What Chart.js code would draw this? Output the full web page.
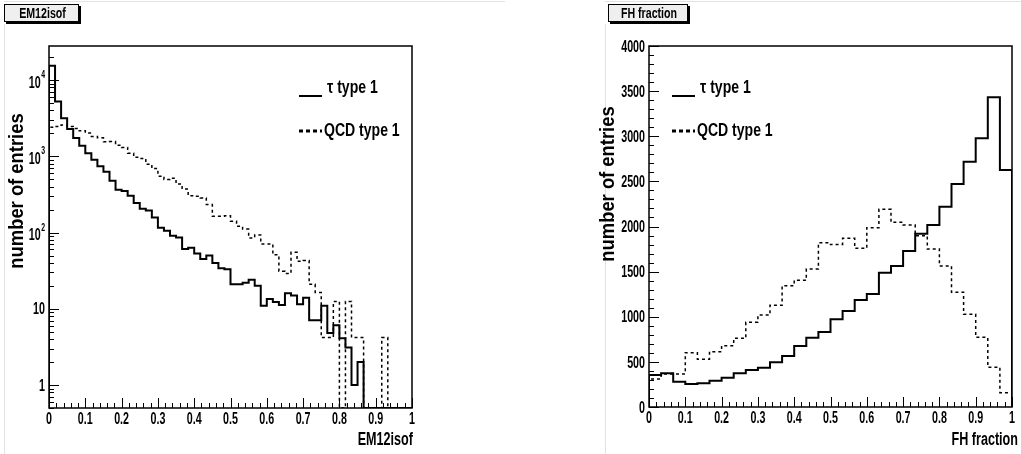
<!DOCTYPE html>
<html>
<head>
<meta charset="utf-8">
<script src="https://cdn.jsdelivr.net/npm/chart.js@4.4.1/dist/chart.umd.min.js"></script>
<style>
    html, body { margin: 0; padding: 0; background: #fff; }
    #wrap { position: relative; width: 1021px; height: 454px; overflow: hidden; }
    canvas { position: absolute; top: 0; }
    #em-canvas { left: 0; }
    #fh-canvas { left: 510px; }
</style>
</head>
<body>
<div id="wrap">
    <canvas id="em-canvas" width="510" height="454"></canvas>
    <canvas id="fh-canvas" width="511" height="454"></canvas>
</div>
<script>
// EM12isof: 60 bins over [0, 1], log scale
const emTau = [15400, 5250, 3170, 2280, 1735, 1380, 1100, 900, 740, 630,
    480, 365, 350, 305, 245, 205, 195, 158, 116, 106,
    91, 86, 61, 63, 53, 45, 50, 40, 34, 33,
    21, 21, 22, 24, 20, 11, 13.4, 12.3, 11.2, 16,
    15, 11.5, 14, 7.1, 7.1, 11, 4.8, 6.1, 4.1, 3.1,
    1.0, 2.0, 0, 0, 0, 0, 0, 0, 0, 0];
const emQcd = [2400, 2470, 2570, 2470, 2325, 2160, 2020, 1820, 1750, 1550,
    1560, 1400, 1310, 1100, 970, 940, 790, 690, 550, 495,
    515, 433, 372, 304, 299, 285, 233, 164, 164, 166,
    141, 121, 111, 85, 93, 71, 71, 51, 31, 29,
    55, 42, 43, 21, 16.4, 4.2, 4.2, 12.5, 0, 12.5,
    4.2, 4.2, 0, 0, 0, 4.2, 0, 0, 0, 0];

// FH fraction: 30 bins over [0, 1], linear scale
const fhTau = [355, 373, 281, 255, 262, 292, 325, 373, 410, 436,
    495, 565, 676, 768, 831, 972, 1064, 1186, 1252, 1488,
    1562, 1728, 1920, 2016, 2219, 2471, 2718, 2977, 3431, 2626];
const fhQcd = [310, 366, 366, 602, 528, 613, 680, 761, 938, 1019,
    1127, 1344, 1404, 1529, 1820, 1800, 1869, 1758, 1987, 2190,
    2046, 2016, 1898, 1751, 1562, 1271, 1027, 772, 440, 158];

const xTickValues = [0, 0.1, 0.2, 0.3, 0.4, 0.5, 0.6, 0.7, 0.8, 0.9, 1];
const xTickLabels = ['0', '0.1', '0.2', '0.3', '0.4', '0.5', '0.6', '0.7', '0.8', '0.9', '1'];
const emYTicks = [1, 10, 100, 1000, 10000];
const emYLabels = [['1', ''], ['10', ''], ['10', '2'], ['10', '3'], ['10', '4']];
const fhYTicks = [0, 500, 1000, 1500, 2000, 2500, 3000, 3500, 4000];
const fhYLabels = ['0', '500', '1000', '1500', '2000', '2500', '3000', '3500', '4000'];

const EM_YMIN = 0.5;
const EM_YMAX = 28000;
const FONT = '"Liberation Sans", Arial, sans-serif';
const TICK_FONT = 'bold 17px ' + FONT;
const TICK_SX = 0.63;

// histogram outline: bin edges doubled so the line steps like ROOT's
function stepPoints(values, floor) {
    const w = 1 / values.length;
    const pts = [{ x: 0, y: floor }];
    values.forEach((v, i) => {
        const y = v > 0 ? v : floor;
        pts.push({ x: i * w, y: y }, { x: (i + 1) * w, y: y });
    });
    pts.push({ x: 1, y: floor });
    return pts;
}

function squeezeText(ctx, text, x, y, font, sx, align) {
    ctx.save();
    ctx.font = font;
    ctx.textBaseline = 'middle';
    ctx.textAlign = 'left';
    const w = ctx.measureText(text).width * sx;
    const x0 = align === 'right' ? x - w : (align === 'center' ? x - w / 2 : x);
    ctx.translate(x0, y);
    ctx.scale(sx, 1);
    ctx.fillStyle = '#000';
    ctx.fillText(text, 0, 0);
    ctx.restore();
    return w;
}

function verticalText(ctx, text, x, y, font, sx) {
    ctx.save();
    ctx.font = font;
    ctx.textBaseline = 'middle';
    ctx.textAlign = 'center';
    ctx.translate(x, y);
    ctx.rotate(-Math.PI / 2);
    ctx.scale(sx, 1);
    ctx.fillStyle = '#000';
    ctx.fillText(text, 0, 0);
    ctx.restore();
}

function titleBox(ctx, x, y, w, h, text) {
    ctx.save();
    ctx.fillStyle = '#000';
    ctx.fillRect(x + 2, y + 2, w, h);
    ctx.fillStyle = '#efefef';
    ctx.fillRect(x, y, w, h);
    ctx.strokeStyle = '#000';
    ctx.lineWidth = 1;
    ctx.strokeRect(x + 0.5, y + 0.5, w - 1, h - 1);
    ctx.restore();
    squeezeText(ctx, text, x + w / 2 + 1, y + h / 2 + 1, 'bold 14px ' + FONT, 0.76, 'center');
}

function legendLine(ctx, x, y, dashed) {
    ctx.save();
    ctx.strokeStyle = '#000';
    ctx.lineWidth = dashed ? 3 : 2;
    ctx.setLineDash(dashed ? [4, 3] : []);
    ctx.beginPath();
    ctx.moveTo(x, y);
    ctx.lineTo(x + 23, y);
    ctx.stroke();
    ctx.restore();
}

// pad decoration, frame, inward ticks and labels in ROOT style
const rootPad = {
    id: 'rootPad',
    beforeDraw(chart) {
        const { ctx, width, height } = chart;
        ctx.save();
        ctx.fillStyle = '#fff';
        ctx.fillRect(0, 0, width, height);
        ctx.restore();
    },
    afterDatasetsDraw(chart, args, o) {
        const { ctx, chartArea: a, scales: { x, y } } = chart;
        const off = o.offset;
        ctx.save();

        // faint pad border
        ctx.strokeStyle = '#e2e2e2';
        ctx.lineWidth = 1;
        ctx.beginPath();
        ctx.moveTo(o.padLeft - off + 0.5, 24);
        ctx.lineTo(o.padLeft - off + 0.5, chart.height);
        ctx.moveTo(o.padLeft - off, 1.5);
        ctx.lineTo(o.padRight - off, 1.5);
        ctx.stroke();

        // frame
        ctx.strokeStyle = '#000';
        ctx.lineWidth = 1.5;
        ctx.strokeRect(a.left, a.top, a.right - a.left, a.bottom - a.top);

        // x axis ticks
        ctx.lineWidth = 1;
        ctx.beginPath();
        for (let i = 0; i < xTickValues.length; i++) {
            const px = Math.round(x.getPixelForValue(xTickValues[i])) + 0.5;
            ctx.moveTo(px, a.bottom);
            ctx.lineTo(px, a.bottom - 10);
            if (i < xTickValues.length - 1) {
                const step = (xTickValues[i + 1] - xTickValues[i]) / 5;
                for (let k = 1; k < 5; k++) {
                    const mx = Math.round(x.getPixelForValue(xTickValues[i] + k * step)) + 0.5;
                    ctx.moveTo(mx, a.bottom);
                    ctx.lineTo(mx, a.bottom - 5);
                }
            }
        }
        // y axis ticks
        o.yMinor.forEach((v) => {
            const py = Math.round(y.getPixelForValue(v)) + 0.5;
            ctx.moveTo(a.left, py);
            ctx.lineTo(a.left + 5, py);
        });
        o.yMajor.forEach((v) => {
            const py = Math.round(y.getPixelForValue(v)) + 0.5;
            ctx.moveTo(a.left, py);
            ctx.lineTo(a.left + 10, py);
        });
        ctx.stroke();
        ctx.restore();

        xTickLabels.forEach((t, i) => {
            squeezeText(ctx, t, x.getPixelForValue(xTickValues[i]), a.bottom + 11, TICK_FONT, TICK_SX, 'center');
        });
        o.yMajor.forEach((v, i) => {
            const py = y.getPixelForValue(v);
            const lab = o.yLabels[i];
            if (Array.isArray(lab) && lab[1]) {
                const supFont = 'bold 11px ' + FONT;
                ctx.save();
                ctx.font = supFont;
                const supW = ctx.measureText(lab[1]).width * TICK_SX;
                ctx.restore();
                const right = a.left - 4;
                squeezeText(ctx, lab[0], right - supW - 0.5, py + 3, TICK_FONT, TICK_SX, 'right');
                squeezeText(ctx, lab[1], right, py - 5, supFont, TICK_SX, 'right');
            } else {
                const t = Array.isArray(lab) ? lab[0] : lab;
                squeezeText(ctx, t, a.left - 4, py + 1, TICK_FONT, TICK_SX, 'right');
            }
        });

        // titles
        titleBox(ctx, o.boxX - off, 4, o.boxW, 18, o.title);
        squeezeText(ctx, o.xTitle, o.xTitleRight - off, 440, 'bold 18px ' + FONT, 0.7, 'right');
        verticalText(ctx, 'number of entries', o.yTitleX - off, o.yTitleY, 'bold 20px ' + FONT, 0.92);

        // legend
        const lx = o.legendX - off;
        legendLine(ctx, lx, 96, false);
        legendLine(ctx, lx, 131, true);
        const legFont = 'bold 18px ' + FONT;
        squeezeText(ctx, '\u03c4 type 1', lx + 28, 88, legFont, 0.78, 'left');
        squeezeText(ctx, 'QCD type 1', lx + 25, 131, legFont, 0.78, 'left');
    }
};

function histDatasets(tau, qcd, floor) {
    return [{
        label: '\u03c4 type 1',
        data: stepPoints(tau, floor),
        borderColor: '#000',
        borderWidth: 2,
        pointRadius: 0,
        tension: 0,
        fill: false
    }, {
        label: 'QCD type 1',
        data: stepPoints(qcd, floor),
        borderColor: '#000',
        borderWidth: 1.5,
        borderDash: [3, 3],
        pointRadius: 0,
        tension: 0,
        fill: false
    }];
}

function logMinors() {
    const result = [];
    for (let d = 0.1; d <= 10000; d *= 10) {
        for (let m = 2; m <= 9; m++) {
            const v = m * d;
            if (v >= EM_YMIN && v <= EM_YMAX) {
                result.push(v);
            }
        }
    }
    return result;
}

function linearMinors() {
    const result = [];
    for (let v = 100; v < 4000; v += 100) {
        if (v % 500 !== 0) {
            result.push(v);
        }
    }
    return result;
}

Chart.defaults.animation = false;

new Chart(document.getElementById('em-canvas'), {
    type: 'line',
    data: { datasets: histDatasets(emTau, emQcd, EM_YMIN) },
    options: {
        responsive: false,
        layout: { padding: { left: 49, top: 46, right: 98, bottom: 46 } },
        scales: {
            x: { type: 'linear', min: 0, max: 1, display: false },
            y: { type: 'logarithmic', min: EM_YMIN, max: EM_YMAX, display: false }
        },
        plugins: {
            legend: { display: false },
            tooltip: { enabled: false },
            rootPad: {
                offset: 0,
                padLeft: 4,
                padRight: 505,
                title: 'EM12isof',
                boxX: 4,
                boxW: 75,
                xTitle: 'EM12isof',
                xTitleRight: 413,
                yTitleX: 17,
                yTitleY: 191,
                legendX: 299,
                yMajor: emYTicks,
                yLabels: emYLabels,
                yMinor: logMinors()
            }
        }
    },
    plugins: [rootPad]
});

new Chart(document.getElementById('fh-canvas'), {
    type: 'line',
    data: { datasets: histDatasets(fhTau, fhQcd, 0) },
    options: {
        responsive: false,
        layout: { padding: { left: 139, top: 46, right: 9, bottom: 47 } },
        scales: {
            x: { type: 'linear', min: 0, max: 1, display: false },
            y: { type: 'linear', min: 0, max: 4000, display: false }
        },
        plugins: {
            legend: { display: false },
            tooltip: { enabled: false },
            rootPad: {
                offset: 510,
                padLeft: 605,
                padRight: 1021,
                title: 'FH fraction',
                boxX: 608,
                boxW: 80,
                xTitle: 'FH fraction',
                xTitleRight: 1018,
                yTitleX: 608,
                yTitleY: 184,
                legendX: 672,
                yMajor: fhYTicks,
                yLabels: fhYLabels,
                yMinor: linearMinors()
            }
        }
    },
    plugins: [rootPad]
});
</script>
</body>
</html>
